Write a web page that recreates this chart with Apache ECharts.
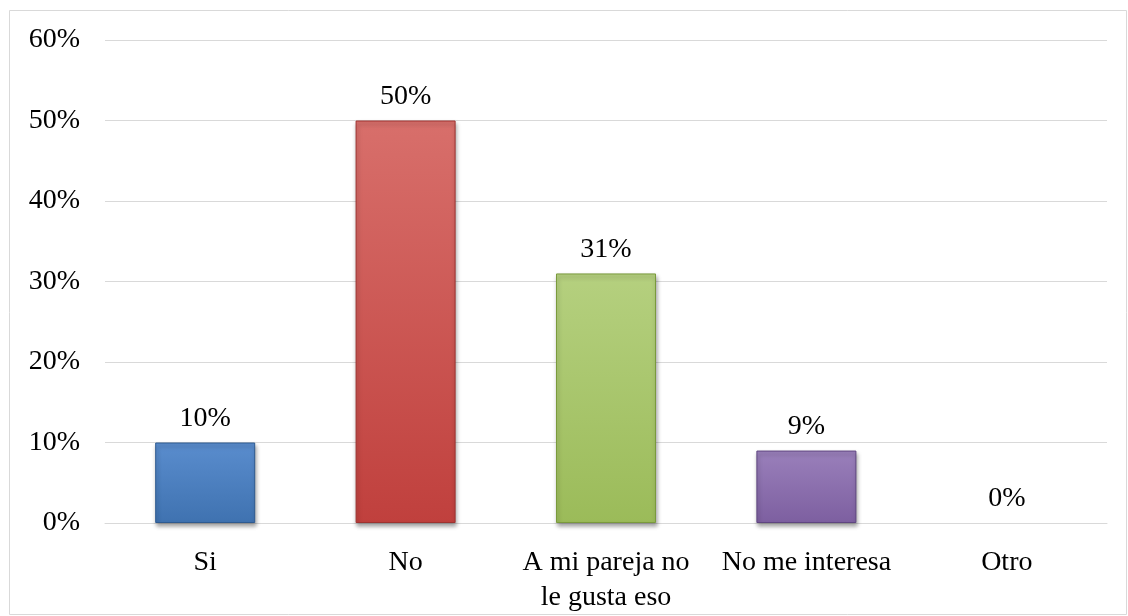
<!DOCTYPE html>
<html>
<head>
<meta charset="utf-8">
<script src="https://cdn.jsdelivr.net/npm/echarts@6/dist/echarts.min.js"></script>
<style>
html,body{margin:0;padding:0;background:#fff;}
#chart{width:1128px;height:616px;}
</style>
</head>
<body>
<div id="chart"></div>
<script>
const categories = ["Si", "No", "A mi pareja no\nle gusta eso", "No me interesa", "Otro"];
const values = [10, 50, 31, 9, 0];
const yTicks = [0, 10, 20, 30, 40, 50, 60];
const barColors = [
  ["#5A8DCE", "#3F72B0", "#2E5A90"],
  ["#D86F6B", "#C0403D", "#9E3330"],
  ["#B5D07F", "#9BBB59", "#7A9A3C"],
  ["#9A80BB", "#7D5FA0", "#5F4580"],
  ["#5A8DCE", "#3F72B0", "#2E5A90"]
];

const chart = echarts.init(document.getElementById('chart'));
const font = '"Liberation Serif", "Times New Roman", serif';

const data = values.map((v, i) => ({
  value: v,
  itemStyle: v === 0 ? { color: 'rgba(0,0,0,0)', borderWidth: 0 } : {
    color: {
      type: 'linear', x: 0, y: 0, x2: 0, y2: 1,
      colorStops: [
        { offset: 0, color: barColors[i][0] },
        { offset: 1, color: barColors[i][1] }
      ]
    },
    borderColor: barColors[i][2],
    borderWidth: 1,
    shadowColor: 'rgba(0,0,0,0.35)',
    shadowBlur: 4,
    shadowOffsetX: 1,
    shadowOffsetY: 3
  }
}));

chart.setOption({
  animation: false,
  backgroundColor: '#fff',
  grid: { left: 105, right: 21, top: 40, bottom: 93, containLabel: false },
  xAxis: {
    type: 'category',
    data: categories,
    axisLine: { show: true, lineStyle: { color: '#D9D9D9', width: 1 } },
    axisTick: { show: false },
    axisLabel: {
      interval: 0,
      color: '#000',
      fontFamily: font,
      fontSize: 28,
      lineHeight: 35,
      margin: 22
    }
  },
  yAxis: {
    type: 'value',
    min: yTicks[0],
    max: yTicks[yTicks.length - 1],
    interval: 10,
    axisLine: { show: false },
    axisTick: { show: false },
    splitLine: { show: true, lineStyle: { color: '#D9D9D9', width: 1 } },
    axisLabel: {
      color: '#000',
      fontFamily: font,
      fontSize: 28,
      margin: 25,
      formatter: v => v + '%'
    }
  },
  series: [{
    type: 'bar',
    data: data,
    barWidth: 100,
    label: {
      show: true,
      position: 'top',
      distance: 10,
      color: '#000',
      fontFamily: font,
      fontSize: 28,
      formatter: p => p.value + '%'
    }
  }],
  graphic: [{
    type: 'rect',
    shape: { x: 9.5, y: 10.5, width: 1117, height: 604 },
    style: { fill: 'none', stroke: '#D9D9D9', lineWidth: 1 },
    silent: true
  }]
});
</script>
</body>
</html>
